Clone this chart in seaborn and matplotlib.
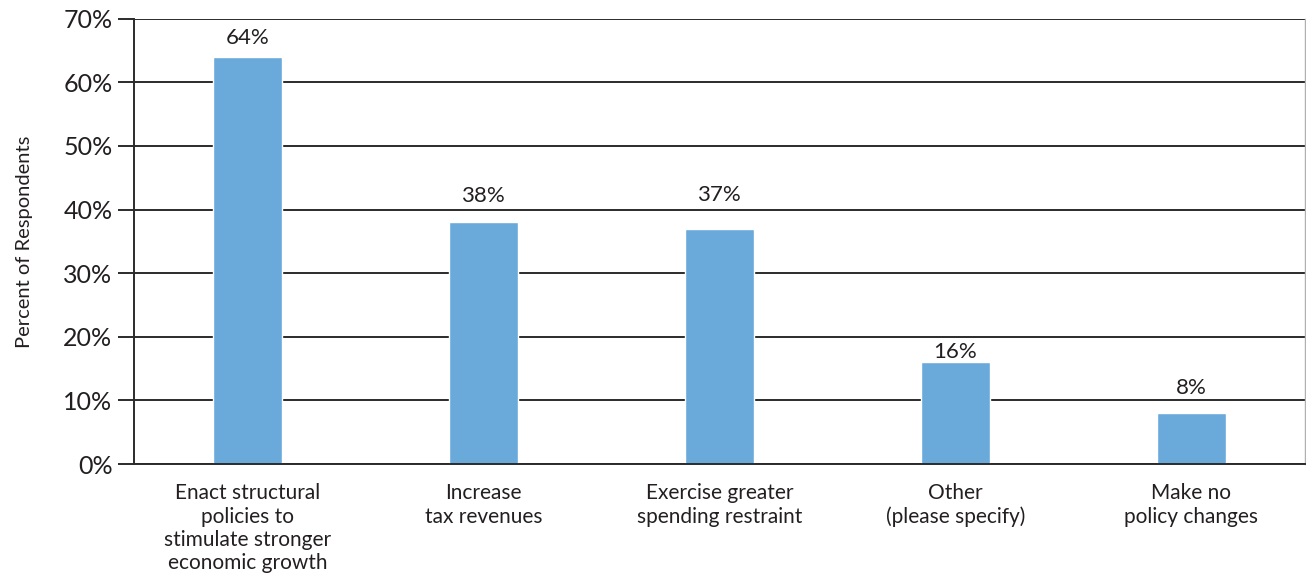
import matplotlib
matplotlib.use("Agg")
import matplotlib.pyplot as plt
import seaborn as sns
import pandas as pd

categories = [
    "Enact structural\npolicies to\nstimulate stronger\neconomic growth",
    "Increase\ntax revenues",
    "Exercise greater\nspending restraint",
    "Other\n(please specify)",
    "Make no\npolicy changes",
]
values = [64, 38, 37, 16, 8]
y_ticks = [0, 10, 20, 30, 40, 50, 60, 70]

# vertical gap (points) between each bar top and its value label baseline,
# nudged so labels clear the gridlines
label_gaps = [9.5, 14.5, 20, 3, 13.5]

bar_color = "#6aaadb"
text_color = "#231f20"
grid_color = "#2b2b2b"

sns.set_theme(style="white")
plt.rcParams["font.family"] = ["Lato", "DejaVu Sans"]

df = pd.DataFrame({"category": categories, "value": values})

fig = plt.figure(figsize=(13.06, 5.8), dpi=100)
ax = fig.add_axes([0.1026, 0.2, 0.8964, 0.7678])

sns.barplot(data=df, x="category", y="value", color=bar_color,
            width=0.29, saturation=1, ax=ax)

ax.set_xlim(-0.48, 4.48)
ax.set_ylim(0, 70)
ax.set_yticks(y_ticks)
ax.set_yticklabels([f"{t}%" for t in y_ticks], fontsize=18, color=text_color)
ax.set_axisbelow(True)
ax.yaxis.grid(True, color=grid_color, linewidth=1.4)

ax.tick_params(axis="y", which="both", left=True, length=11.5, width=1.4,
               color=grid_color, pad=4, direction="out")
ax.tick_params(axis="x", bottom=False, pad=8)
for lbl in ax.get_xticklabels():
    lbl.set_fontsize(15)
    lbl.set_color(text_color)
    lbl.set_linespacing(1.2)

ax.set_xlabel("")
ax.set_ylabel("Percent of Respondents", fontsize=14.5, color=text_color, labelpad=22)

for side in ["left", "bottom"]:
    ax.spines[side].set_color(grid_color)
    ax.spines[side].set_linewidth(1.4)
ax.spines["top"].set_visible(False)
ax.spines["right"].set_color("#b0b0b0")
ax.spines["right"].set_linewidth(1.0)

for patch, v, gap in zip(ax.patches, values, label_gaps):
    cx = patch.get_x() + patch.get_width() / 2
    ax.annotate(f"{v}%", xy=(cx, patch.get_height()), xytext=(0, gap),
                textcoords="offset points", ha="center", va="baseline",
                fontsize=16, color=text_color)

fig.savefig("out.png", dpi=100)
